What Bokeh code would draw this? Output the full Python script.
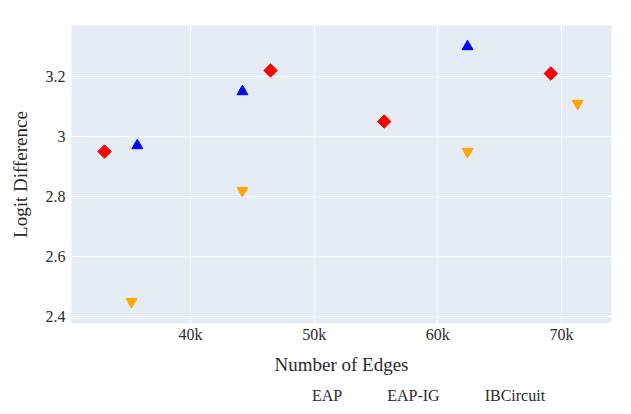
import math
from bokeh.plotting import figure
from bokeh.layouts import column
from bokeh.models import FixedTicker, Legend, LegendItem, Range1d
from bokeh.embed import file_html
from bokeh.resources import INLINE

# Data
eap_x = [35700, 44200, 62400]
eap_y = [2.97, 3.15, 3.30]
eapig_x = [35230, 44200, 62400, 71300]
eapig_y = [2.45, 2.82, 2.95, 3.11]
ib_x = [33050, 46470, 55660, 69130]
ib_y = [2.95, 3.22, 3.05, 3.21]

series_names = ["EAP", "EAP-IG", "IBCircuit"]
x_ticks = [40000, 50000, 60000, 70000]
x_tick_labels = ["40k", "50k", "60k", "70k"]
y_ticks = [2.4, 2.6, 2.8, 3.0, 3.2]
y_tick_labels = ["2.4", "2.6", "2.8", "3", "3.2"]

FONT = "Liberation Serif"

p = figure(width=631, height=380, output_backend="svg", toolbar_location=None,
           x_range=Range1d(30380, 74040), y_range=Range1d(2.377, 3.37),
           min_border_left=71, min_border_right=20, min_border_top=25, min_border_bottom=57,
           background_fill_color="#E5ECF6", border_fill_color="white")
p.outline_line_color = None

for ax in (p.xaxis, p.yaxis):
    ax.axis_line_color = None
    ax.major_tick_line_color = None
    ax.minor_tick_line_color = None
    ax.major_tick_out = 0
    ax.major_tick_in = 0
    ax.major_label_text_font = FONT
    ax.major_label_text_font_size = "16px"
    ax.major_label_text_color = "#2a2a2a"
    ax.axis_label_text_font = FONT
    ax.axis_label_text_font_size = "19px"
    ax.axis_label_text_font_style = "normal"
    ax.axis_label_text_color = "#2a2a2a"

p.xaxis.ticker = FixedTicker(ticks=x_ticks)
p.xaxis.major_label_overrides = dict(zip(x_ticks, x_tick_labels))
p.yaxis.ticker = FixedTicker(ticks=y_ticks)
p.yaxis.major_label_overrides = dict(zip(y_ticks, y_tick_labels))
p.xaxis.axis_label = "Number of Edges"
p.yaxis.axis_label = "Logit Difference"
p.xaxis.major_label_standoff = 2
p.xaxis.axis_label_standoff = 8
p.yaxis.major_label_standoff = 6
p.yaxis.axis_label_standoff = 12

p.xgrid.grid_line_color = "white"
p.ygrid.grid_line_color = "white"
p.xgrid.grid_line_width = 1
p.ygrid.grid_line_width = 1

p.scatter(eap_x, eap_y, marker="triangle", size=11, color="blue")
p.scatter(eapig_x, eapig_y, marker="inverted_triangle", size=11, color="orange")
p.scatter(ib_x, ib_y, marker="square", size=9.5, angle=math.pi / 4, color="red")

# Legend strip below the chart
lf = figure(width=631, height=34, output_backend="svg", toolbar_location=None,
            x_range=Range1d(0, 1), y_range=Range1d(0, 1),
            x_axis_type=None, y_axis_type=None,
            min_border_left=0, min_border_right=0, min_border_top=0, min_border_bottom=0,
            background_fill_color="white", border_fill_color="white")
lf.outline_line_color = None
l1 = lf.scatter([], [], marker="triangle", size=11, color="blue")
l2 = lf.scatter([], [], marker="inverted_triangle", size=11, color="orange")
l3 = lf.scatter([], [], marker="square", size=9.5, angle=math.pi / 4, color="red")

legend = Legend(items=[LegendItem(label=series_names[0], renderers=[l1]),
                       LegendItem(label=series_names[1], renderers=[l2]),
                       LegendItem(label=series_names[2], renderers=[l3])],
                orientation="horizontal", location=(211, 9),
                label_text_font=FONT, label_text_font_size="16px", label_text_color="#2a2a2a",
                border_line_color=None, background_fill_alpha=0,
                glyph_width=20, glyph_height=18, label_height=18, spacing=15, label_standoff=10,
                margin=0, padding=0)
lf.add_layout(legend, "center")

layout = column(p, lf, spacing=0)
open("out.html", "w").write(file_html(layout, INLINE))
